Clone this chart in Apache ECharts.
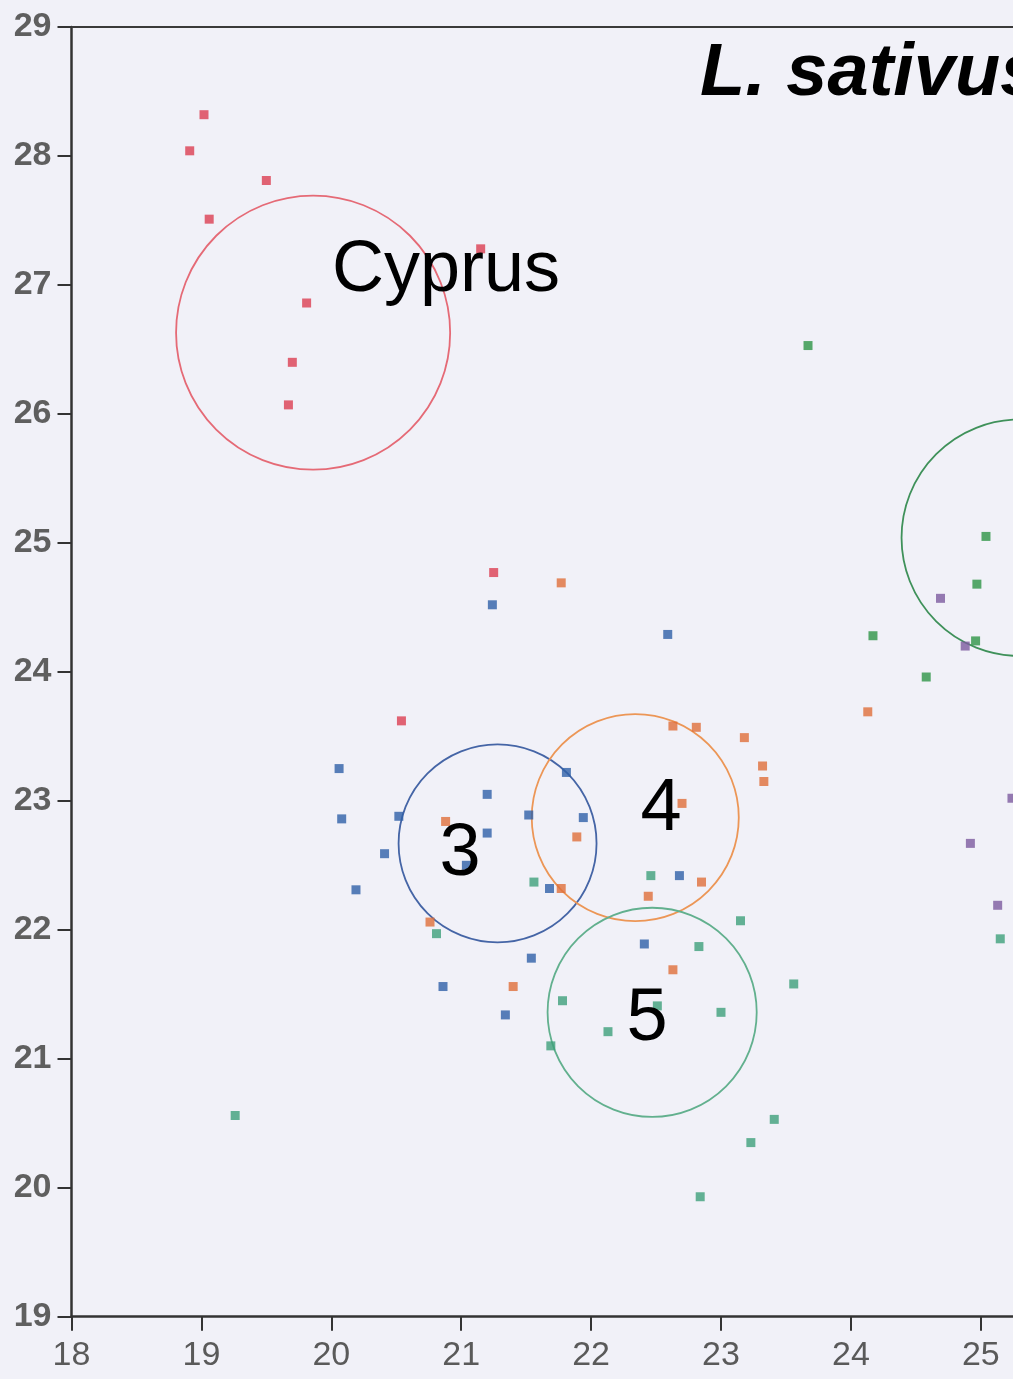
<!DOCTYPE html>
<html>
<head>
<meta charset="utf-8">
<title>L. sativus</title>
<script src="https://cdn.jsdelivr.net/npm/echarts@6/dist/echarts.min.js"></script>
<style>
  html, body { margin: 0; padding: 0; background: #f1f1f8; }
  #chart { width: 1013px; height: 1379px; }
</style>
</head>
<body>
<div id="chart"></div>
<script>
// points, [x, y]
const redPts = [
  [19.02, 28.32], [18.91, 28.04], [19.50, 27.81], [19.06, 27.51], [21.15, 27.28],
  [19.81, 26.86], [19.70, 26.40], [19.67, 26.07], [21.25, 24.77], [20.54, 23.62]
];
const orangePts = [
  [21.77, 24.69], [24.13, 23.69], [22.63, 23.58], [22.81, 23.57], [23.18, 23.49],
  [23.32, 23.27], [23.33, 23.15], [22.70, 22.98], [21.89, 22.72], [20.88, 22.84],
  [22.85, 22.37], [22.44, 22.26], [21.77, 22.32], [20.76, 22.06], [21.40, 21.56],
  [22.63, 21.69]
];
const bluePts = [
  [21.24, 24.52], [22.59, 24.29], [20.06, 23.25], [21.81, 23.22], [21.20, 23.05],
  [20.08, 22.86], [20.52, 22.88], [21.52, 22.89], [21.94, 22.87], [21.20, 22.75],
  [20.41, 22.59], [21.04, 22.50], [20.19, 22.31], [21.68, 22.32], [22.68, 22.42],
  [22.41, 21.89], [21.54, 21.78], [20.86, 21.56], [21.34, 21.34]
];
const tealPts = [
  [21.56, 22.37], [22.46, 22.42], [20.81, 21.97], [23.15, 22.07], [22.83, 21.87],
  [23.56, 21.58], [21.78, 21.45], [22.51, 21.41], [23.00, 21.36], [22.13, 21.21],
  [21.69, 21.10], [23.41, 20.53], [23.23, 20.35], [22.84, 19.93], [19.26, 20.56],
  [25.15, 21.93]
];
const purplePts = [
  [24.69, 24.57], [24.88, 24.20], [25.24, 23.02], [24.92, 22.67], [25.13, 22.19]
];
const greenPts = [
  [23.67, 26.53], [25.04, 25.05], [24.97, 24.68], [24.96, 24.24], [24.17, 24.28],
  [24.58, 23.96]
];

// group circles: [centre x, centre y, radius]
const circles = [
  [19.86, 26.63, 1.055],
  [21.28, 22.67, 0.762],
  [22.34, 22.87, 0.797],
  [22.47, 21.36, 0.805],
  [25.30, 25.04, 0.91]
];
const circleColors = ['#e56a76', '#4565a6', '#ec9656', '#62b08e', '#3f915a'];

const xTicks = [18, 19, 20, 21, 22, 23, 24, 25];
const yTicks = [19, 20, 21, 22, 23, 24, 25, 26, 27, 28, 29];
// the picture is cut off on the right, a little past 25
const xMax = 25.248;

const chart = echarts.init(document.getElementById('chart'));

function scatter (name, data, color) {
  return {
    name: name,
    type: 'scatter',
    data: data,
    symbol: 'rect',
    symbolSize: 9,
    itemStyle: { color: color },
    z: 3
  };
}

const option = {
  backgroundColor: '#f1f1f8',
  animation: false,
  grid: {
    left: 71.5,
    top: 27,
    bottom: 62.3,
    right: 0
  },
  xAxis: [{
    type: 'value',
    min: xTicks[0],
    max: xMax,
    interval: 1,
    splitLine: { show: false },
    axisLine: { onZero: false, lineStyle: { color: '#333', width: 2.5 } },
    axisTick: { length: 14, lineStyle: { color: '#333', width: 2 } },
    axisLabel: {
      margin: 22,
      color: '#5a5a5a',
      fontSize: 34,
      showMaxLabel: false,
      fontFamily: 'Liberation Sans Narrow, Liberation Sans, Arial',
      formatter: v => (xTicks.indexOf(v) >= 0 ? String(v) : '')
    }
  }, {
    // top frame line
    type: 'value',
    position: 'top',
    min: xTicks[0],
    max: xMax,
    splitLine: { show: false },
    axisLine: { onZero: false, lineStyle: { color: '#3a3a3a', width: 2 } },
    axisTick: { show: false },
    axisLabel: { show: false }
  }],
  yAxis: {
    type: 'value',
    min: yTicks[0],
    max: yTicks[yTicks.length - 1],
    interval: 1,
    splitLine: { show: false },
    axisLine: { onZero: false, lineStyle: { color: '#333', width: 2.5 } },
    axisTick: { length: 14, lineStyle: { color: '#333', width: 2 } },
    axisLabel: {
      margin: 20,
      color: '#5f5f5f',
      fontSize: 34,
      fontWeight: 'bold',
      fontFamily: 'Liberation Sans, Arial'
    }
  },
  series: [
    {
      type: 'custom',
      data: circles,
      silent: true,
      clip: false,
      z: 2,
      renderItem: function (params, api) {
        const c = api.coord([api.value(0), api.value(1)]);
        const r = api.size([api.value(2), 0])[0];
        return {
          type: 'circle',
          shape: { cx: c[0], cy: c[1], r: r },
          style: { fill: 'none', stroke: circleColors[params.dataIndex], lineWidth: 1.8 }
        };
      }
    },
    scatter('red', redPts, '#dc3f51'),
    scatter('orange', orangePts, '#e06f3a'),
    scatter('blue', bluePts, '#3060a8'),
    scatter('teal', tealPts, '#3fa07a'),
    scatter('purple', purplePts, '#7d5b9f'),
    scatter('green', greenPts, '#2e9546')
  ],
  graphic: [
    { type: 'text', x: 332, y: 271, z: 10,
      style: { text: 'Cyprus', font: '72px Liberation Sans, Arial', fill: '#000', verticalAlign: 'middle' } },
    { type: 'text', x: 460, y: 855, z: 10,
      style: { text: '3', font: '74px Liberation Sans, Arial', fill: '#000', align: 'center', verticalAlign: 'middle' } },
    { type: 'text', x: 661, y: 810, z: 10,
      style: { text: '4', font: '74px Liberation Sans, Arial', fill: '#000', align: 'center', verticalAlign: 'middle' } },
    { type: 'text', x: 647, y: 1020, z: 10,
      style: { text: '5', font: '74px Liberation Sans, Arial', fill: '#000', align: 'center', verticalAlign: 'middle' } },
    { type: 'text', x: 700, y: 75, z: 10,
      style: { text: 'L. sativus', font: 'italic bold 74px Liberation Sans, Arial', fill: '#000', verticalAlign: 'middle' } }
  ]
};

chart.setOption(option);
</script>
</body>
</html>
